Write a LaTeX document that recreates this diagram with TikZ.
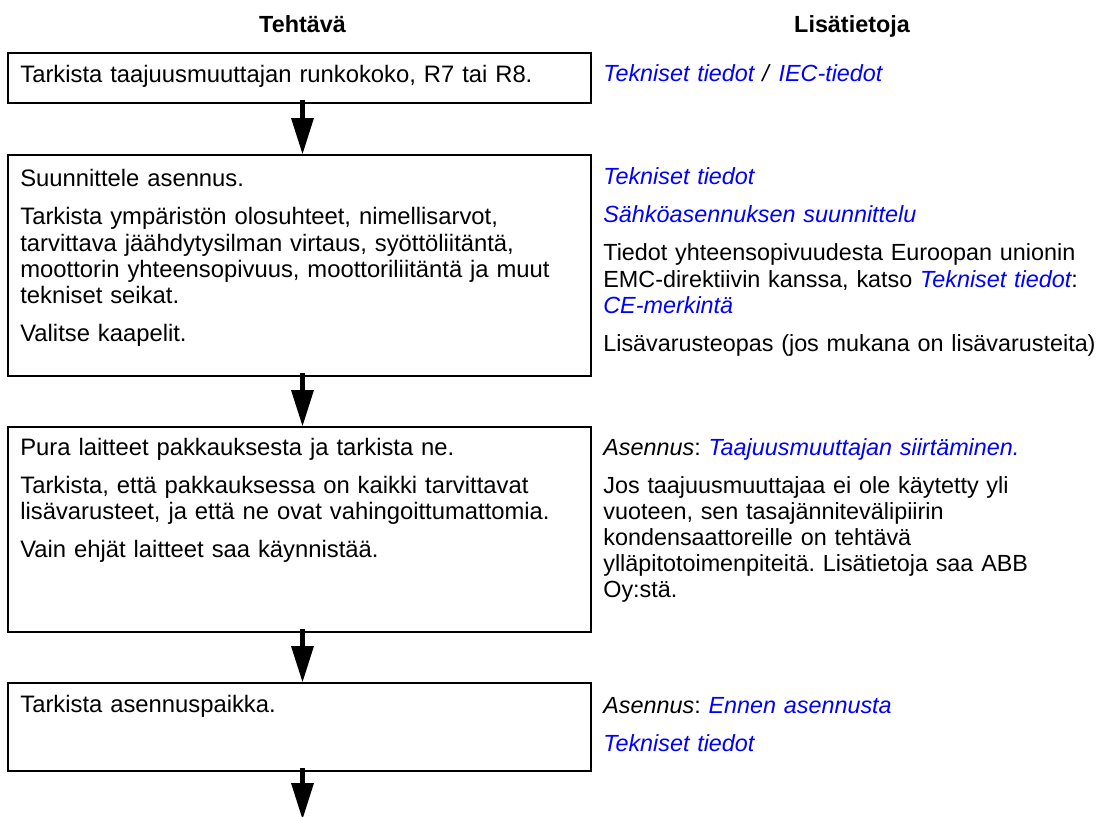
\documentclass[tikz,border=0pt]{standalone}
\usepackage{fontspec}
\setmainfont{Liberation Sans}
\usetikzlibrary{arrows.meta}
\definecolor{LinkBlue}{RGB}{0,0,255}
\newcommand{\linkki}[1]{\textit{\color{LinkBlue}#1}}
\frenchspacing

\begin{document}
\begin{tikzpicture}[x=.02cm,y=-.02cm,
  taskbox/.style={draw,line width=.04cm,anchor=north west,minimum width=11.66cm,inner sep=0pt},
  lefttxt/.style={anchor=base west,inner sep=0pt,align=left,text width=11.5cm,font=\fontsize{13.55}{14.8}\selectfont},
  righttxt/.style={lefttxt,text width=10cm,font=\fontsize{13.3}{14.8}\selectfont},
  header/.style={anchor=base,inner sep=0pt,font=\fontsize{13.3}{14.8}\selectfont\bfseries},
  flowarrow/.style={line width=.1cm,-{Triangle[length=.72cm,width=.46cm,line width=0pt]}}]
\useasboundingbox (0,0) rectangle (1101,817);
% otsikot
\node[header] (tehtava) at (302.5,33) {Tehtävä};
\node[header] (lisatieto) at (852,33) {Lisätietoja};
% tehtävälaatikot
\node[taskbox,minimum height=1cm] (t1) at (7,52) {};
\node[taskbox,minimum height=4.42cm] (t2) at (7,154) {};
\node[taskbox,minimum height=4.1cm] (t3) at (7,426) {};
\node[taskbox,minimum height=1.76cm] (t4) at (7,682) {};
\node[lefttxt] (t1txt) at (20,83) {Tarkista taajuusmuuttajan runkokoko, R7 tai R8.};
\node[lefttxt] (t2txt) at (20,187) {Suunnittele asennus.\\[.24cm]
  Tarkista ympäristön olosuhteet, nimellisarvot,\\
  tarvittava jäähdytysilman virtaus, syöttöliitäntä,\\
  moottorin yhteensopivuus, moottoriliitäntä ja muut\\
  tekniset seikat.\\[.24cm]
  Valitse kaapelit.};
\node[lefttxt] (t3txt) at (20,455) {Pura laitteet pakkauksesta ja tarkista ne.\\[.24cm]
  Tarkista, että pakkauksessa on kaikki tarvittavat\\
  lisävarusteet, ja että ne ovat vahingoittumattomia.\\[.24cm]
  Vain ehjät laitteet saa käynnistää.};
\node[lefttxt] (t4txt) at (20,712) {Tarkista asennuspaikka.};
% lisätiedot
\node[righttxt] (r1) at (603,82) {\linkki{Tekniset tiedot} \textit{/} \linkki{IEC-tiedot}};
\node[righttxt] (r2) at (603,185) {\linkki{Tekniset tiedot}\\[.24cm]
  \linkki{Sähköasennuksen suunnittelu}\\[.24cm]
  Tiedot yhteensopivuudesta Euroopan unionin\\
  EMC-direktiivin kanssa, katso \linkki{Tekniset tiedot}:\\
  \linkki{CE-merkintä}\\[.24cm]
  Lisävarusteopas (jos mukana on lisävarusteita)};
\node[righttxt] (r3) at (603,455) {\textit{Asennus}: \linkki{Taajuusmuuttajan siirtäminen.}\\[.24cm]
  Jos taajuusmuuttajaa ei ole käytetty yli\\
  vuoteen, sen tasajännitevälipiirin\\
  kondensaattoreille on tehtävä\\
  ylläpitotoimenpiteitä. Lisätietoja saa ABB\\
  Oy:stä.};
\node[righttxt] (r4) at (603,713) {\textit{Asennus}: \linkki{Ennen asennusta}\\[.24cm]
  \linkki{Tekniset tiedot}};
% nuolet
\coordinate (loppu) at (302.5,819);
\draw[flowarrow,shorten <=-.08cm] (t1.south -| tehtava) -- (t2.north -| tehtava);
\draw[flowarrow,shorten <=-.08cm] (t2.south -| tehtava) -- (t3.north -| tehtava);
\draw[flowarrow,shorten <=-.08cm] (t3.south -| tehtava) -- (t4.north -| tehtava);
\draw[flowarrow,shorten <=-.08cm] (t4.south -| tehtava) -- (loppu);
\end{tikzpicture}
\end{document}
